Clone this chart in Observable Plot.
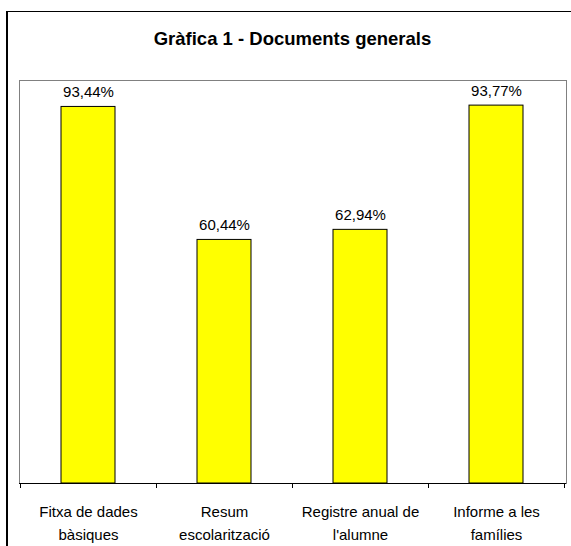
<!DOCTYPE html>
<html>
<head>
<meta charset="utf-8">
<script src="https://cdn.jsdelivr.net/npm/d3@7"></script>
<script src="https://cdn.jsdelivr.net/npm/@observablehq/plot@0.6"></script>
<style>
  html, body { margin: 0; padding: 0; background: #fff; overflow: hidden; }
  body { width: 571px; height: 546px; position: relative; font-family: "Liberation Sans", Arial, sans-serif; }
  #box { position: absolute; left: 6px; top: 11px; width: 620px; height: 600px;
         border-top: 1px solid #000; border-left: 2px solid #000; box-sizing: border-box; }
  #title { position: absolute; left: 0; top: 29px; width: 585px; text-align: center;
           font-weight: bold; font-size: 18.5px; line-height: 20px; color: #000; }
  #chart { position: absolute; left: 0; top: 60px; }
</style>
</head>
<body>
<div id="box"></div>
<div id="title">Gràfica 1 - Documents generals</div>
<div id="chart"></div>
<script>
const categories = ["Fitxa de dades\nbàsiques", "Resum\nescolarització", "Registre anual de\nl'alumne", "Informe a les\nfamílies"];
const values = [93.44, 60.44, 62.94, 93.77];
const valueLabels = ["93,44%", "60,44%", "62,94%", "93,77%"];

const data = categories.map((c, i) => ({cat: c, v: values[i], label: valueLabels[i]}));

function boundaryTicks(index, scales, vals, dim) {
  const g = d3.create("svg:g");
  const xs = scales.x;
  const yb = dim.height - dim.marginBottom;
  let xsPos = [];
  if (xs && typeof xs.step === "function" && typeof xs.bandwidth === "function") {
    const step = xs.step(), bw = xs.bandwidth();
    xsPos = categories.map(c => xs(c) - (step - bw) / 2);
    xsPos.push(xsPos[xsPos.length - 1] + step);
  } else {
    const x0 = dim.marginLeft, x1 = dim.width - dim.marginRight;
    for (let i = 0; i <= categories.length; i++) xsPos.push(x0 + (x1 - x0) * i / categories.length);
  }
  for (const x of xsPos) {
    g.append("line").attr("x1", x).attr("x2", x).attr("y1", yb).attr("y2", yb + 5)
      .attr("stroke", "#000").attr("stroke-width", 1).attr("shape-rendering", "crispEdges");
  }
  return g.node();
}

const plot = Plot.plot({
  width: 571,
  height: 486,
  marginTop: 20,
  marginBottom: 63,
  marginLeft: 19,
  marginRight: 5,
  style: {background: "transparent", fontFamily: "'Liberation Sans', Arial, sans-serif", color: "#000"},
  x: {domain: categories, paddingInner: 0.6, paddingOuter: 0.3, axis: null},
  y: {domain: [0, 100], axis: null},
  marks: [
    Plot.frame({stroke: "#808080", strokeWidth: 1}),
    Plot.barY(data, {x: "cat", y: "v", fill: "#FFFF00", stroke: "#000", strokeWidth: 1}),
    Plot.text(data, {x: "cat", y: "v", text: "label", lineAnchor: "bottom", dy: -10, fontSize: 15, fill: "#000"}),
    Plot.ruleY([0], {stroke: "#000", strokeWidth: 1}),
    boundaryTicks,
    Plot.axisX({tickSize: 0, tickPadding: 18, fontSize: 15, lineHeight: 1.5, label: null, fill: "#000"})
  ]
});
document.getElementById("chart").appendChild(plot);
</script>
</body>
</html>
